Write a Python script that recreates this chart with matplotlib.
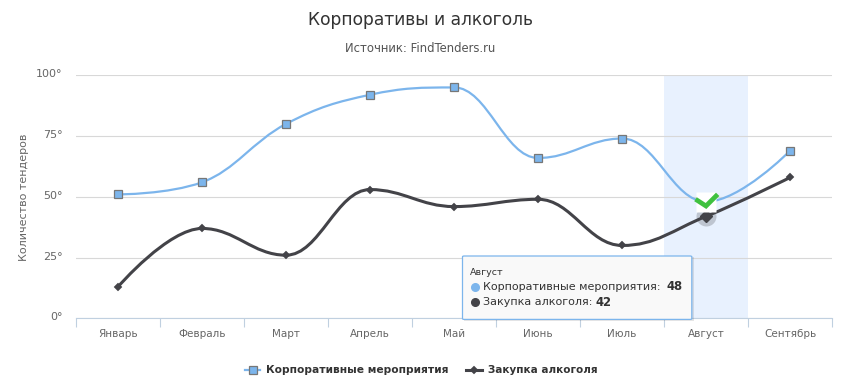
import matplotlib
matplotlib.use("Agg")
import matplotlib.pyplot as plt
from matplotlib.path import Path
from matplotlib.patches import PathPatch, Rectangle, FancyBboxPatch
from matplotlib.lines import Line2D
from matplotlib.transforms import ScaledTranslation

months = ["Январь", "Февраль", "Март", "Апрель", "Май", "Июнь", "Июль", "Август", "Сентябрь"]
events = [51, 56, 80, 92, 95, 66, 74, 48, 69]
alcohol = [13, 37, 26, 53, 46, 49, 30, 42, 58]
yticks = [0, 25, 50, 75, 100]
ylabels = ["0°", "25°", "50°", "75°", "100°"]
hover = 7

W, H = 842, 384
BLUE = "#7cb5ec"
DARK = "#434348"
plt.rcParams["font.family"] = ["DejaVu Sans"]


def fx(px):
    return px / W


def fy(py):
    return 1 - py / H


def spline_path(ys):
    # same control points as a highcharts spline series
    s = 1.5
    d = s + 1
    verts = [(0, ys[0])]
    codes = [Path.MOVETO]
    pts = list(enumerate(ys))
    right_prev = (0, ys[0])
    for i in range(1, len(pts)):
        x, y = pts[i]
        if i == len(pts) - 1:
            left = (x, y)
            right = (x, y)
        else:
            lx, ly = pts[i - 1]
            nx, ny = pts[i + 1]
            lcx = (s * x + lx) / d
            lcy = (s * y + ly) / d
            rcx = (s * x + nx) / d
            rcy = (s * y + ny) / d
            c = (rcy - lcy) * (rcx - x) / (rcx - lcx) + y - rcy
            lcy += c
            rcy += c
            if lcy > ly and lcy > y:
                lcy = max(ly, y)
                rcy = 2 * y - lcy
            elif lcy < ly and lcy < y:
                lcy = min(ly, y)
                rcy = 2 * y - lcy
            if rcy > ny and rcy > y:
                rcy = max(ny, y)
                lcy = 2 * y - rcy
            elif rcy < ny and rcy < y:
                rcy = min(ny, y)
                lcy = 2 * y - rcy
            left = (lcx, lcy)
            right = (rcx, rcy)
        verts += [right_prev, left, (x, y)]
        codes += [Path.CURVE4, Path.CURVE4, Path.CURVE4]
        right_prev = right
    return Path(verts, codes)


fig = plt.figure(figsize=(W / 100, H / 100), dpi=100)
ax = fig.add_axes([fx(76), fy(318.4), (832.2 - 76) / W, (318.4 - 75.3) / H])
ax.set_xlim(-0.5, 8.5)
ax.set_ylim(0, 100)

ax.axvspan(hover - 0.5, hover + 0.5, color="#e8f1fe", lw=0, zorder=0)
ax.set_yticks(yticks)
ax.set_yticklabels(ylabels, color="#666666", fontsize=8)
ax.yaxis.grid(True, color="#d8d8d8", lw=0.8, zorder=1)
ax.tick_params(axis="y", length=0, pad=9.7)
up = ScaledTranslation(0, 2 / 100, fig.dpi_scale_trans)
for lab in ax.get_yticklabels():
    lab.set_transform(lab.get_transform() + up)
ax.set_ylabel("Количество тендеров", color="#666666", fontsize=8)
ax.yaxis.set_label_coords((29 - 76) / (832.2 - 76), 0.5)

ax.set_xticks(range(len(months)))
ax.set_xticklabels(months, color="#666666", fontsize=7.5)
ax.set_xticks([i - 0.5 for i in range(len(months) + 1)], minor=True)
ax.tick_params(axis="x", which="major", length=0, pad=7.5)
ax.tick_params(axis="x", which="minor", length=6.5, width=0.8, color="#c0d0e0")
for name in ["top", "left", "right"]:
    ax.spines[name].set_visible(False)
ax.spines["bottom"].set_color("#c0d0e0")
ax.spines["bottom"].set_linewidth(0.8)

ax.add_patch(PathPatch(spline_path(events), fc="none", ec=BLUE, lw=1.6, zorder=3))
ax.add_patch(PathPatch(spline_path(alcohol), fc="none", ec=DARK, lw=2.2, zorder=4))
ax.plot(range(len(events)), events, ls="none", marker="s", ms=6, mfc=BLUE, mec="#777777", mew=0.9, zorder=5)
ax.plot(range(len(alcohol)), alcohol, ls="none", marker="D", ms=4.4, mfc=DARK, mec=DARK, mew=0.3, zorder=6)

# hovered points
ax.plot([hover], [alcohol[hover]], ls="none", marker="o", ms=14.4, mfc="#434348", mec="none", alpha=0.25, zorder=5)
ax.plot([hover], [alcohol[hover]], ls="none", marker="D", ms=6, mfc=DARK, mec=DARK, zorder=7)

# check icon replacing the hovered marker
ax.plot([hover], [events[hover]], ls="none", marker="s", ms=14, mfc="white", mec="none", zorder=7)
ck = Line2D([fx(697.5), fx(706), fx(716)], [fy(200.5), fy(206), fy(196)], transform=fig.transFigure,
            color="#3fc13f", lw=3.4, solid_joinstyle="miter", zorder=8)
ax.add_line(ck)
ck.set_clip_on(False)

fig.text(fx(421), fy(20), "Корпоративы и алкоголь", ha="center", va="center", fontsize=12.3, color="#333333")
fig.text(fx(420.5), fy(49), "Источник: FindTenders.ru", ha="center", va="center", fontsize=8.4, color="#555555")

# tooltip
shadow = Rectangle((fx(464), fy(321)), 229.5 / W, 64 / H, transform=fig.transFigure, fc="#000000", alpha=0.1, lw=0, zorder=9)
box = FancyBboxPatch((fx(462.5), fy(319.4)), 229.3 / W, 63.4 / H, boxstyle="round,pad=0,rounding_size=0.002",
                     transform=fig.transFigure, fc="#f9f9f9", ec=BLUE, lw=0.9, zorder=10)
fig.add_artist(shadow)
fig.add_artist(box)
fig.text(fx(470), fy(272.5), months[hover], va="center", fontsize=6.8, color="#333333", zorder=11)
fig.add_artist(Line2D([fx(475)], [fy(287)], marker="o", ms=5.5, mfc=BLUE, mec=BLUE, zorder=11))
fig.add_artist(Line2D([fx(475)], [fy(302)], marker="o", ms=5.5, mfc=DARK, mec=DARK, zorder=11))
fig.text(fx(483), fy(287), "Корпоративные мероприятия:", va="center", fontsize=8, color="#333333", zorder=11)
fig.text(fx(683), fy(287), str(events[hover]), va="center", ha="right", fontsize=8.4, fontweight="bold", color="#333333", zorder=11)
fig.text(fx(483), fy(302), "Закупка алкоголя:", va="center", fontsize=8, color="#333333", zorder=11)
fig.text(fx(611), fy(302), str(alcohol[hover]), va="center", ha="right", fontsize=8.4, fontweight="bold", color="#333333", zorder=11)

# legend
fig.add_artist(Line2D([fx(245), fx(260)], [fy(370), fy(370)], color=BLUE, lw=1.6))
fig.add_artist(Line2D([fx(252.5)], [fy(370)], marker="s", ms=6, mfc=BLUE, mec="#777777", mew=0.9))
fig.text(fx(265.5), fy(370), "Корпоративные мероприятия", va="center", fontsize=7.7, fontweight="bold", color="#333333")
fig.add_artist(Line2D([fx(466), fx(482)], [fy(370), fy(370)], color=DARK, lw=2.2))
fig.add_artist(Line2D([fx(474)], [fy(370)], marker="D", ms=4.4, mfc=DARK, mec=DARK, mew=0.3))
fig.text(fx(488), fy(370), "Закупка алкоголя", va="center", fontsize=7.5, fontweight="bold", color="#333333")

fig.savefig("out.png", dpi=100)
